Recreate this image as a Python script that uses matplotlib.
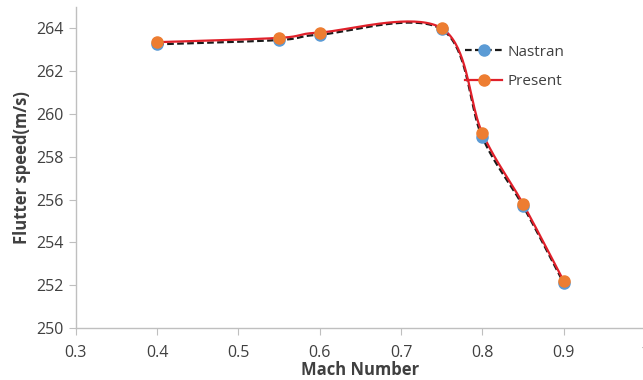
import numpy as np
import matplotlib.pyplot as plt

plt.rcParams['font.family'] = ['Open Sans', 'DejaVu Sans']

mach = [0.4, 0.55, 0.6, 0.75, 0.8, 0.85, 0.9]
nastran = [263.25, 263.45, 263.7, 263.95, 258.9, 255.7, 252.1]
present = [263.35, 263.55, 263.8, 264.0, 259.1, 255.8, 252.2]

XLIM = (0.3, 1.0)
YLIM = (250, 265)


def smooth(x, y, sx, sy, n=40):
    # Excel-like smoothed line: Catmull-Rom Bezier, done in pixel-ish space
    p = np.column_stack([np.asarray(x) * sx, np.asarray(y) * sy])
    p = np.vstack([p[0], p, p[-1]])
    out = []
    t = np.linspace(0, 1, n)[:, None]
    for i in range(1, len(p) - 2):
        p0, p1, p2, p3 = p[i - 1], p[i], p[i + 1], p[i + 2]
        b1 = p1 + (p2 - p0) / 6
        b2 = p2 - (p3 - p1) / 6
        seg = (1 - t) ** 3 * p1 + 3 * (1 - t) ** 2 * t * b1 + 3 * (1 - t) * t ** 2 * b2 + t ** 3 * p2
        out.append(seg)
    out = np.vstack(out)
    return out[:, 0] / sx, out[:, 1] / sy


fig = plt.figure(figsize=(6.43, 3.8), dpi=100)
ax = fig.add_axes([0.118, 0.137, 0.885, 0.845])

SX, SY = 813.0, 21.4
xs, ys = smooth(mach, nastran, SX, SY)
ax.plot(xs, ys, color='#1a1a1a', linestyle=(0, (3, 1.5)), lw=1.6, zorder=2)
xs, ys = smooth(mach, present, SX, SY)
ax.plot(xs, ys, color='#e0202a', lw=1.6, zorder=3)
ax.plot(mach, nastran, 'o', color='#5b9bd5', ms=8, zorder=4)
ax.plot(mach, present, 'o', color='#ed7d31', ms=8, zorder=5)

# legend handles
h1, = ax.plot([], [], color='#1a1a1a', linestyle=(0, (3, 1.5)), lw=1.6,
              marker='o', mfc='#5b9bd5', mec='#5b9bd5', ms=8)
h2, = ax.plot([], [], color='#e0202a', lw=1.6,
              marker='o', mfc='#ed7d31', mec='#ed7d31', ms=8)
ax.legend([h1, h2], ['Nastran', 'Present'], loc='upper left',
          bbox_to_anchor=(0.66, 0.925), frameon=False, fontsize=11,
          handlelength=2.4, handletextpad=0.4, labelspacing=0.95,
          labelcolor='#404040')

ax.set_xlim(*XLIM)
ax.set_ylim(*YLIM)
ax.set_xticks(np.arange(0.3, 1.01, 0.1))
ax.set_xticklabels(['0.3', '0.4', '0.5', '0.6', '0.7', '0.8', '0.9', '1'])
ax.set_yticks(np.arange(250, 265, 2))

for s in ['top', 'right']:
    ax.spines[s].set_visible(False)
for s in ['left', 'bottom']:
    ax.spines[s].set_color('#bfbfbf')
    ax.spines[s].set_linewidth(1.0)
ax.tick_params(colors='#bfbfbf', labelcolor='#404040', labelsize=11.5,
               length=5, direction='out')
ax.tick_params(axis='x', pad=7)

ax.set_xlabel('Mach Number', fontsize=12, fontweight='bold', color='#404040', labelpad=0)
ax.set_ylabel('Flutter speed(m/s)', fontsize=12, fontweight='bold', color='#404040', labelpad=4)

fig.savefig('out.png', dpi=100)
